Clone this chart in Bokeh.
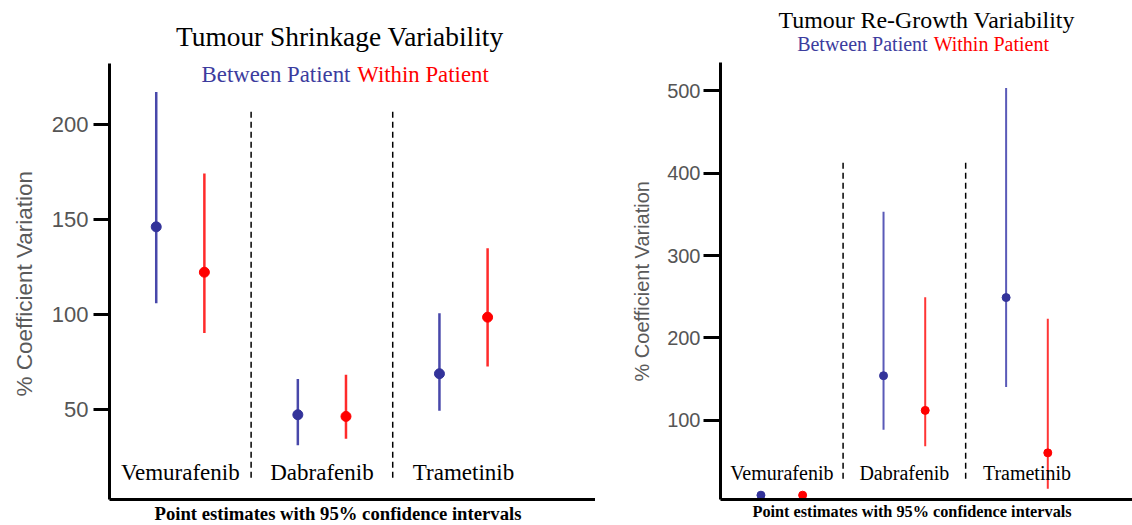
from bokeh.plotting import figure
from bokeh.models import Range1d, Label, FixedTicker, Title
from bokeh.layouts import row
from bokeh.embed import file_html
from bokeh.resources import INLINE
from bokeh.core.properties import value

# ---------------- data ----------------
drugs = ["Vemurafenib", "Dabrafenib", "Trametinib"]

# Tumour shrinkage variability (% coefficient of variation)
shrink_between_est = [146.2, 47.2, 68.8]
shrink_between_lo = [106.0, 31.1, 49.3]
shrink_between_hi = [217.2, 66.0, 100.7]
shrink_within_est = [122.3, 46.3, 98.6]
shrink_within_lo = [90.2, 34.6, 72.6]
shrink_within_hi = [174.3, 68.3, 134.9]

# Tumour re-growth variability (% coefficient of variation)
regrow_between_est = [9.0, 154.1, 249.0]
regrow_between_lo = [6.0, 88.6, 140.4]
regrow_between_hi = [12.0, 353.2, 503.5]
regrow_within_est = [9.0, 112.0, 60.4]
regrow_within_lo = [6.0, 68.4, 16.7]
regrow_within_hi = [12.0, 249.5, 223.2]

shrink_ticks = [50, 100, 150, 200]
regrow_ticks = [100, 200, 300, 400, 500]

title_left = "Tumour Shrinkage Variability"
title_right = "Tumour Re-Growth Variability"
sub_between = "Between Patient"
sub_within = "Within  Patient"
y_title = "% Coefficient Variation"
x_title = "Point estimates with 95% confidence intervals"

BLUE_TXT = "#3c3c9e"
BLUE_PT = "#33339a"
RED = "#ff0000"
SERIF = "Liberation Serif"
SANS = "Liberation Sans"


def make_panel(width, border_left, x_range, y_range, y_bounds, ticks,
               between, within, sep_y, cat_y, title_xy, title_text, sub_y, sub_gap,
               ytitle_offset, ytitle_standoff, ytitle_valign, xtitle_offset, fs,
               tick_out, tick_standoff, pt_size, lw, blue_line, red_line):
    p = figure(width=width, height=525, output_backend="svg", toolbar_location=None,
               title=None, x_range=Range1d(*x_range), y_range=Range1d(*y_range),
               min_border_left=border_left, min_border_right=0, min_border_top=0,
               min_border_bottom=25)
    p.outline_line_color = None
    p.xgrid.visible = False
    p.ygrid.visible = False

    # y axis
    ya = p.yaxis[0]
    ya.bounds = y_bounds
    ya.ticker = FixedTicker(ticks=ticks)
    ya.axis_line_width = 3
    ya.axis_line_color = "black"
    ya.major_tick_line_width = 3
    ya.major_tick_out = tick_out
    ya.major_tick_in = 0
    ya.minor_tick_out = 0
    ya.minor_tick_in = 0
    ya.major_label_standoff = tick_standoff
    ya.major_label_text_font = SANS
    ya.major_label_text_font_size = fs["tick"]
    ya.major_label_text_color = "#555555"

    # y title (left of the tick labels)
    p.add_layout(Title(text=y_title, align="left", offset=ytitle_offset,
                       standoff=ytitle_standoff, vertical_align=ytitle_valign,
                       text_font=SANS, text_font_size=fs["ytitle"],
                       text_font_style="normal", text_color="#5a5a5a"), "left")

    # x axis
    xa = p.xaxis[0]
    xa.ticker = FixedTicker(ticks=[])
    xa.axis_line_width = 3
    xa.axis_line_color = "black"
    xa.major_tick_out = 0
    xa.major_tick_in = 0
    xa.minor_tick_out = 0
    xa.minor_tick_in = 0
    xa.major_label_text_font_size = "0px"
    xa.major_label_standoff = 0

    # x title (below the plot area)
    p.add_layout(Title(text=x_title, align="left", offset=xtitle_offset,
                       standoff=3, vertical_align="bottom", text_font=SERIF,
                       text_font_size=fs["xtitle"], text_font_style="bold",
                       text_color="black"), "below")

    off = 0.17
    xb = [i - off for i in range(len(drugs))]
    xw = [i + off for i in range(len(drugs))]
    est_b, lo_b, hi_b = between
    est_w, lo_w, hi_w = within

    # separators
    p.segment(x0=[0.5, 1.5], y0=[sep_y[0]] * 2, x1=[0.5, 1.5], y1=[sep_y[1]] * 2,
              line_color="black", line_width=1.5, line_dash="6 4")

    p.segment(x0=xb, y0=lo_b, x1=xb, y1=hi_b, line_color=blue_line, line_width=lw)
    p.segment(x0=xw, y0=lo_w, x1=xw, y1=hi_w, line_color=red_line, line_width=lw)
    p.scatter(x=xb, y=est_b, size=pt_size, fill_color=BLUE_PT, line_color=BLUE_PT)
    p.scatter(x=xw, y=est_w, size=pt_size, fill_color=RED, line_color=RED)

    p.text(x=list(range(len(drugs))), y=[cat_y] * len(drugs), text=drugs,
           text_font=value(SERIF), text_font_size=fs["cat"], text_color="black",
           text_align="center", text_baseline="alphabetic")

    p.add_layout(Label(x=title_xy[0], y=title_xy[1], text=title_text, text_font=SERIF,
                       text_font_size=fs["title"], text_color="black",
                       text_align="center", text_baseline="alphabetic"))
    p.add_layout(Label(x=sub_gap[0], y=sub_y, text=sub_between, text_font=SERIF,
                       text_font_size=fs["sub"], text_color=BLUE_TXT,
                       text_align="right", text_baseline="alphabetic"))
    p.add_layout(Label(x=sub_gap[1], y=sub_y, text=sub_within, text_font=SERIF,
                       text_font_size=fs["sub"], text_color=RED,
                       text_align="left", text_baseline="alphabetic"))
    return p


left = make_panel(
    width=595, border_left=109, x_range=(-0.5, 2.932),
    y_range=(2.54, 265.45), y_bounds=(2.54, 232.3), ticks=shrink_ticks,
    between=(shrink_between_est, shrink_between_lo, shrink_between_hi),
    within=(shrink_within_est, shrink_within_lo, shrink_within_hi),
    sep_y=(14.0, 209.0), cat_y=16.7, title_xy=(1.126, 246.0), title_text=title_left,
    sub_y=226.4, sub_gap=(1.201, 1.250),
    ytitle_offset=103, ytitle_standoff=20, ytitle_valign="top", xtitle_offset=45,
    fs=dict(tick="22px", cat="23px", title="27.4px", sub="22.8px", ytitle="22.5px",
            xtitle="18.7px"),
    tick_out=16, tick_standoff=5, pt_size=10, lw=2.5,
    blue_line="#4848aa", red_line="#ff2a2a")

right = make_panel(
    width=537, border_left=125, x_range=(-0.5, 2.861),
    y_range=(3.76, 609.8), y_bounds=(3.76, 534.7), ticks=regrow_ticks,
    between=(regrow_between_est, regrow_between_lo, regrow_between_hi),
    within=(regrow_within_est, regrow_within_lo, regrow_within_hi),
    sep_y=(28.9, 416.7), cat_y=35.7, title_xy=(1.182, 586.0), title_text=title_right,
    sub_y=556.9, sub_gap=(1.190, 1.239),
    ytitle_offset=118, ytitle_standoff=24, ytitle_valign="bottom", xtitle_offset=32,
    fs=dict(tick="20px", cat="20px", title="23.9px", sub="20px", ytitle="20px",
            xtitle="16.25px"),
    tick_out=17, tick_standoff=3, pt_size=8, lw=2,
    blue_line="#5a5ab8", red_line="#ff3535")

layout = row(left, right)
open("out.html", "w").write(file_html(layout, INLINE))
